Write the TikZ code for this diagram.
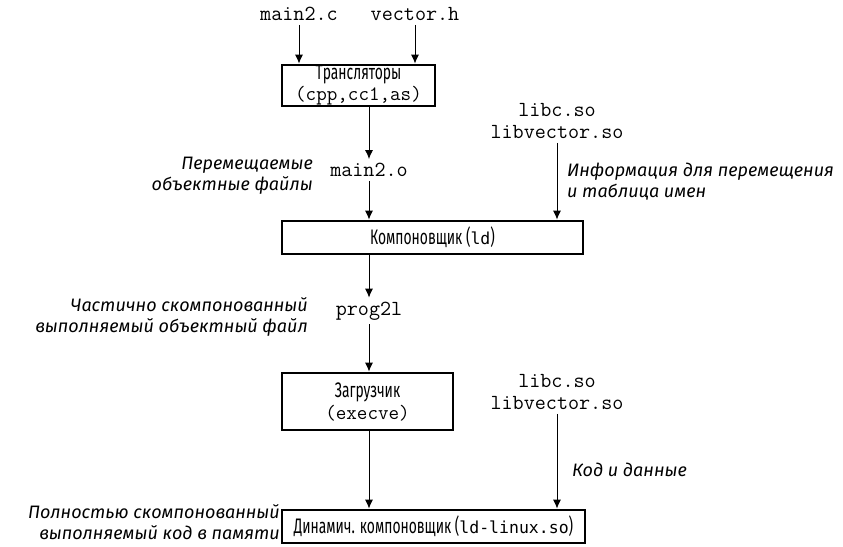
\documentclass[tikz,border=0pt]{standalone}
\usepackage{fontspec}
\setmainfont{Fira Sans}
\newfontfamily\boxfont[FakeStretch=0.66]{Fira Sans}
\newfontfamily\ldfont{DejaVu Sans Mono}
\usetikzlibrary{arrows.meta}

\begin{document}
\begin{tikzpicture}[x=1pt, y=-1pt,
    file/.style={font=\ttfamily\fontsize{21.5}{22}\selectfont, align=center, inner sep=4pt},
    stage/.style={draw, line width=2.8pt, inner sep=0pt, align=center,
      font=\boxfont\fontsize{21}{21}\selectfont},
    note/.style={font=\itshape\fontsize{18}{21}\selectfont, align=#1, inner sep=0pt},
    flow/.style={-{Latex[length=9pt,width=8pt]}, line width=0.9pt}]
  \useasboundingbox (0,0) rectangle (843,546);

  % sources and the translator stage
  \node[file] (src) at (299,14) {main2.c};
  \node[file] (hdr) at (415,14) {vector.h};
  \node[stage, minimum width=153pt, minimum height=41pt] (trans) at (358.5,85.5)
    {Трансляторы\\{\ttfamily\fontsize{20.5}{19}\selectfont(cpp,cc1,as)}};
  \draw[flow] (src) -- (src |- trans.north);
  \draw[flow] (hdr) -- (hdr |- trans.north);

  % static linking
  \node[file] (obj) at (369,170) {main2.o};
  \node[file] (libs) at (557,121) {libc.so\\libvector.so};
  \node[stage, minimum width=301pt, minimum height=33pt] (linker) at (432.5,237.5)
    {Компоновщик ({\ldfont\fontsize{16.5}{19}\selectfont ld})};
  \node[note=right, anchor=east] (objnote) at (313,176) {Перемещаемые\\объектные файлы};
  \node[note=left, anchor=west] (libsnote) at (567,182) {Информация для перемещения\\и таблица имен};
  \draw[flow] (trans.south -| obj) -- (obj);
  \draw[flow] (obj) -- (obj |- linker.north);
  \draw[flow] (libs) -- (libs |- linker.north);

  % loading
  \node[file] (exe) at (369,311) {prog2l};
  \node[note=right, anchor=east] (exenote) at (308,317) {Частично скомпонованный\\выполняемый объектный файл};
  \node[stage, minimum width=171pt, minimum height=57pt] (loader) at (367.5,401.5)
    {Загрузчик\\[1pt]{\ttfamily\fontsize{20.5}{19}\selectfont(execve)}};
  \draw[flow] (linker.south -| exe) -- (exe);
  \draw[flow] (exe) -- (exe |- loader.north);

  % dynamic linking
  \node[file] (shlibs) at (557,392) {libc.so\\libvector.so};
  \node[stage, minimum width=303pt, minimum height=33pt] (dyn) at (433.5,526.5)
    {Динамич. компоновщик ({\ldfont\fontsize{16.5}{19}\selectfont ld-linux.so})};
  \node[note=left, anchor=west] (shnote) at (572,470) {Код и данные};
  \node[note=right, anchor=east] (dynnote) at (280,522) {Полностью скомпонованный\\выполняемый код в памяти};
  \draw[flow] (loader.south -| exe) -- (exe |- dyn.north);
  \draw[flow] (shlibs) -- (shlibs |- dyn.north);
\end{tikzpicture}
\end{document}
